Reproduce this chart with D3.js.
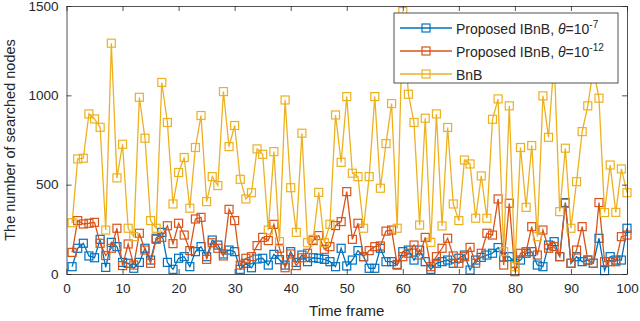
<!DOCTYPE html>
<html>
<head>
<meta charset="utf-8">
<script src="https://cdn.jsdelivr.net/npm/d3@7"></script>
<style>
  body { margin: 0; background: #fff; }
  text { font-family: "Liberation Sans", Arial, sans-serif; fill: #262626; }
</style>
</head>
<body>
<div id="graph"></div>
<script>
// frame index for each sample
var frames = d3.range(1, 101)

var ibnb7 = [41,144,172,101,91,194,37,177,153,65,
  60,32,65,144,78,200,233,65,26,88,
  97,41,125,153,97,190,162,112,134,125,
  26,60,35,84,88,50,110,80,50,125,
  65,106,69,91,88,82,69,41,144,45,
  78,131,97,32,32,144,69,69,50,125,
  134,78,134,69,26,60,69,78,60,88,
  106,22,78,93,106,116,148,95,97,60,
  78,116,125,50,41,162,181,97,400,60,
  97,69,78,60,200,19,97,78,78,256]

var ibnb12 = [121,299,280,284,289,172,103,144,256,47,
  168,50,228,134,60,194,205,270,170,284,
  218,131,308,317,82,175,144,101,362,299,
  50,88,97,159,205,187,278,144,35,112,
  47,91,116,187,215,138,153,271,293,461,
  194,284,97,131,153,157,240,246,54,97,
  116,162,106,205,41,97,144,200,101,60,
  97,149,60,116,228,218,420,50,396,13,
  116,125,265,106,246,144,153,97,396,60,
  134,265,78,60,400,69,69,69,209,218]

var bnb = [287,644,648,896,868,821,246,1292,538,726,
  256,209,989,760,299,256,1072,848,392,568,
  652,368,708,887,405,545,495,1021,713,831,
  530,420,455,700,670,246,685,181,974,483,
  233,788,175,194,457,175,278,890,625,993,
  564,545,256,545,993,480,730,954,256,1469,
  1006,848,274,872,177,896,269,820,392,299,
  638,616,312,549,312,866,980,125,941,41,
  708,373,719,209,997,765,1200,349,704,256,
  517,797,941,1150,984,344,610,345,588,455]

var xTicks = [0,10,20,30,40,50,60,70,80,90,100]
var yTicks = [0,500,1000,1500]

var seriesNames = ['Proposed IBnB', 'Proposed IBnB', 'BnB']
var thetaExp = ['-7', '-12', null]
var colors = ['#0072BD', '#D95319', '#EDB120']

var W = 640, H = 321
var margin = {top: 6, right: 13, bottom: 47, left: 66.5}
var width = W - margin.left - margin.right,
  height = H - margin.top - margin.bottom

var svg = d3.select('#graph').append('svg')
  .attr('width', W).attr('height', H)

var g = svg.append('g')
  .attr('transform', 'translate(' + margin.left + ',' + margin.top + ')')

var x = d3.scaleLinear().domain([0, 100]).range([0, width])
var y = d3.scaleLinear().domain([0, 1500]).range([height, 0])

g.append('clipPath').attr('id', 'clip')
  .append('rect').attr('x', -6).attr('y', -6).attr('width', width + 12).attr('height', height + 12)

var series = [ibnb7, ibnb12, bnb]
var line = d3.line()
  .x(function(d, i) { return x(frames[i]) })
  .y(function(d) { return y(d) })

var plot = g.append('g').attr('clip-path', 'url(#clip)')
series.forEach(function(s, k) {
  plot.append('path')
    .datum(s)
    .attr('d', line)
    .attr('fill', 'none')
    .attr('stroke', colors[k])
    .attr('stroke-width', 1.3)
  plot.selectAll('.m' + k)
    .data(s)
    .enter().append('rect')
    .attr('class', 'm' + k)
    .attr('x', function(d, i) { return x(frames[i]) - 4 })
    .attr('y', function(d) { return y(d) - 4 })
    .attr('width', 8).attr('height', 8)
    .attr('fill', 'none')
    .attr('stroke', colors[k])
    .attr('stroke-width', 1.2)
})

// axes, matlab style: ticks inside, box all around
var axisCol = '#262626'
var fmt = d3.format('d')
var axBottom = g.append('g')
  .attr('transform', 'translate(0,' + height + ')')
  .call(d3.axisBottom(x).tickValues(xTicks).tickSizeInner(-5).tickSizeOuter(0).tickPadding(9).tickFormat(fmt))
var axTop = g.append('g')
  .call(d3.axisTop(x).tickValues(xTicks).tickSizeInner(-5).tickSizeOuter(0).tickFormat(''))
var axLeft = g.append('g')
  .call(d3.axisLeft(y).tickValues(yTicks).tickSizeInner(-5).tickSizeOuter(0).tickPadding(8).tickFormat(fmt))
var axRight = g.append('g')
  .attr('transform', 'translate(' + width + ',0)')
  .call(d3.axisRight(y).tickValues(yTicks).tickSizeInner(-5).tickSizeOuter(0).tickFormat(''))

;[axBottom, axTop, axLeft, axRight].forEach(function(a) {
  a.select('.domain').attr('stroke', axisCol).attr('stroke-width', 0.8)
  a.selectAll('.tick line').attr('stroke', axisCol).attr('stroke-width', 0.8)
  a.selectAll('.tick text')
    .attr('fill', axisCol)
    .style('font-size', '13.5px')
    .style('font-family', '"Liberation Sans", Arial, sans-serif')
})

g.append('text')
  .attr('x', width / 2).attr('y', height + 42)
  .attr('text-anchor', 'middle')
  .style('font-size', '15px')
  .text('Time frame')

g.append('text')
  .attr('transform', 'translate(' + (-52) + ',' + (height / 2) + ') rotate(-90)')
  .attr('text-anchor', 'middle')
  .style('font-size', '14.5px')
  .text('The number of searched nodes')

// legend
var lg = g.append('g').attr('transform', 'translate(' + (394 - margin.left) + ',' + (13 - margin.top) + ')')
lg.append('rect')
  .attr('width', 224).attr('height', 70)
  .attr('fill', '#fff')
  .attr('stroke', axisCol).attr('stroke-width', 0.8)

seriesNames.forEach(function(name, k) {
  var ry = 15 + k * 23
  lg.append('line')
    .attr('x1', 6).attr('x2', 58).attr('y1', ry).attr('y2', ry)
    .attr('stroke', colors[k]).attr('stroke-width', 1.3)
  lg.append('rect')
    .attr('x', 28).attr('y', ry - 4).attr('width', 8).attr('height', 8)
    .attr('fill', 'none').attr('stroke', colors[k]).attr('stroke-width', 1.2)
  var t = lg.append('text')
    .attr('x', 62).attr('y', ry + 5.5)
    .style('font-size', '14px')
  if (thetaExp[k]) {
    t.append('tspan').text(name + ', ')
    t.append('tspan').style('font-style', 'italic').text('\u03b8')
    t.append('tspan').text('=10')
    t.append('tspan').attr('dy', -6).style('font-size', '10px').text(thetaExp[k])
  } else {
    t.text(name)
  }
})
</script>
</body>
</html>
